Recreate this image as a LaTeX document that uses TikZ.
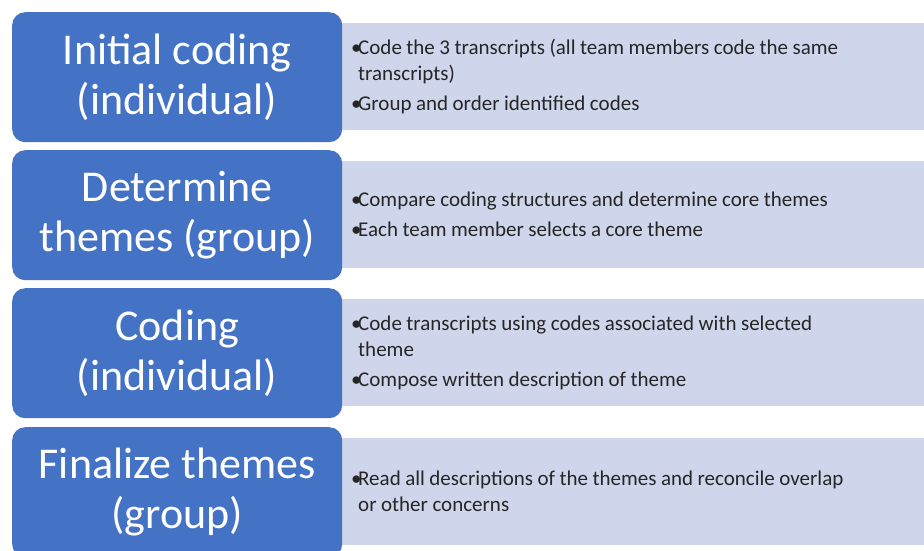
\documentclass[tikz,border=0pt]{standalone}
\usepackage{fontspec}
\setmainfont{Carlito}
\definecolor{phaseblue}{HTML}{4472C4}
\definecolor{notefill}{HTML}{CFD5EA}
\newlength{\bulletwd}
\setlength{\bulletwd}{7pt}
\newcommand{\noteitem}[1]{\spaceskip=4.5pt plus 1pt minus 0.5pt\relax
	\hangindent=\bulletwd\hangafter=1\noindent\makebox[\bulletwd][l]{\textbullet}#1\par}
\newcommand{\notegap}{\vspace{4pt}}
\tikzset{
	phasebox/.style={rectangle, rounded corners=13pt, fill=phaseblue, text=white,
		minimum width=330pt, minimum height=130pt, align=center, anchor=north west,
		font=\fontsize{44}{50}\selectfont},
	notebox/.style={rectangle, fill=notefill, minimum width=582pt, minimum height=107pt,
		text width=564pt, inner xsep=9pt, align=left, anchor=north west, text=black!85,
		font=\fontsize{21}{26}\selectfont}
}
\begin{document}
\begin{tikzpicture}[x=1pt, y=-1pt]
	\useasboundingbox (0,0) rectangle (924,550);
	
	%notes on the right
	\node[notebox] (note1) at (342,23){\noteitem{Code the 3 transcripts (all team members code the same\newline transcripts)}\notegap\noteitem{Group and order identified codes}};
	\node[notebox] (note2) at (342,161){\noteitem{Compare coding structures and determine core themes}\notegap\noteitem{Each team member selects a core theme}};
	\node[notebox] (note3) at (342,299){\noteitem{Code transcripts using codes associated with selected\newline theme}\notegap\noteitem{Compose written description of theme}};
	\node[notebox] (note4) at (342,438){\noteitem{Read all descriptions of the themes and reconcile overlap\newline or other concerns}};
	
	%phases on the left
	\node[phasebox] (phase1) at (12,12){Initial coding\\(individual)};
	\node[phasebox] (phase2) at (12,150){Determine\\themes (group)};
	\node[phasebox] (phase3) at (12,288){Coding\\(individual)};
	\node[phasebox] (phase4) at (12,427){Finalize themes\\(group)};
\end{tikzpicture}
\end{document}
